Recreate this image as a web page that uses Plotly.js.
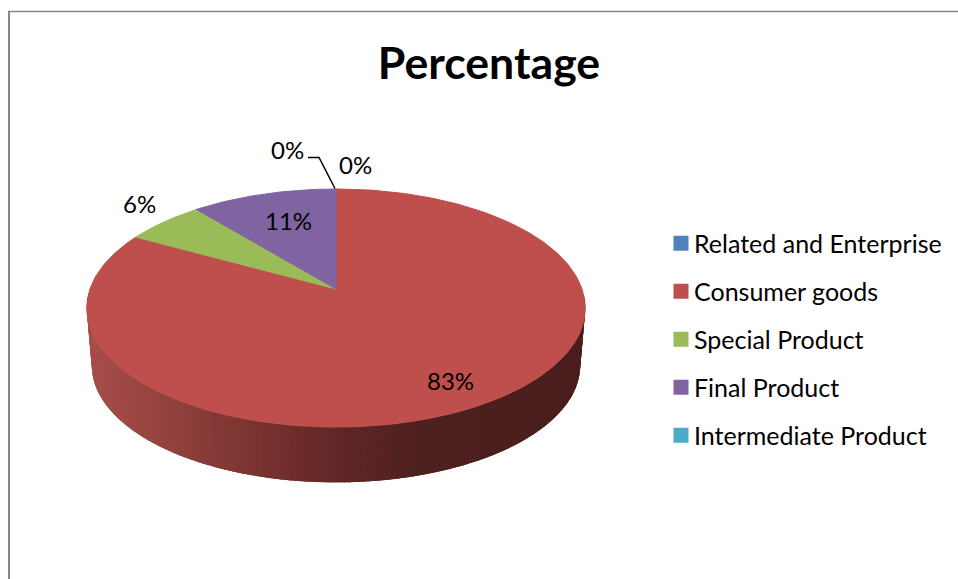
<!DOCTYPE html>
<html>
<head>
<meta charset="utf-8">
<script src="https://cdn.plot.ly/plotly-3.0.1.min.js"></script>
<style>html,body{margin:0;padding:0;background:#fff}</style>
</head>
<body>
<div id="chart" style="width:958px;height:579px"></div>
<script>
// Share of each product category, in percent, clockwise from twelve o'clock.
const categories = ["Related and Enterprise", "Consumer goods", "Special Product", "Final Product", "Intermediate Product"];
const percentages = [0, 83, 6, 11, 0];
const sliceColors = ["#4F81BD", "#BE4F4C", "#9BBB59", "#8064A2", "#4BACC6"];

// Where each percentage label sits: category index and its centre on the page.
const labelIndex = [0, 1, 2, 3, 4];
const labelX = [355, 450, 139, 288, 287];
const labelY = [164, 380, 203, 220, 149];

// Leader line from the label of an empty slice to the rim.
const leaderX = [308, 319, 335];
const leaderY = [157.5, 157.5, 188.5];

// Wall shading, left to right across the disc.
const shadeX = [85, 200, 300, 340, 420, 590];
const shadeRGB = [[168, 78, 75], [138, 60, 57], [108, 44, 42], [95, 39, 38], [78, 32, 31], [74, 30, 29]];

// Tilted-disc projection: top face, and a slightly smaller bottom face for the wall.
const tilt = 0.16;
const topFace = {cx: 336, cy: 289, rx: 246, ry: 116};
const bottomFace = {cx: 336, cy: 347, rx: 241, ry: 113.7};

function project(face, deg) {
  const t = deg * Math.PI / 180;
  const w = 1 + tilt * Math.cos(t);
  return [face.cx + face.rx * Math.sin(t) / w, face.cy - face.ry * Math.cos(t) / w];
}

function shadeAt(x) {
  for (let i = 0; i < shadeX.length - 1; i++) {
    if (x <= shadeX[i + 1]) {
      const f = Math.max(0, (x - shadeX[i]) / (shadeX[i + 1] - shadeX[i]));
      const c = shadeRGB[i].map((v, k) => Math.round(v + f * (shadeRGB[i + 1][k] - v)));
      return `rgb(${c.join(",")})`;
    }
  }
  return `rgb(${shadeRGB[shadeRGB.length - 1].join(",")})`;
}

const traces = [];
const hidden = {mode: "lines", fill: "toself", showlegend: false, hoverinfo: "skip", xaxis: "x", yaxis: "y"};

// The wall, as overlapping narrow strips so the shading varies without seams.
for (let d = 92; d < 268; d += 1) {
  const a = project(topFace, d), b = project(topFace, d + 2.5);
  const c = project(bottomFace, d + 2.5), e = project(bottomFace, d);
  const col = shadeAt(project(topFace, d + 0.5)[0]);
  traces.push(Object.assign({}, hidden, {
    x: [a[0], b[0], c[0], e[0], a[0]], y: [a[1], b[1], c[1], e[1], a[1]],
    fillcolor: col, line: {color: col, width: 0}
  }));
}

// The top face, one wedge per category.
const total = percentages.reduce((s, v) => s + v, 0);
let start = 0;
percentages.forEach((v, i) => {
  const end = start + v / total * 360;
  if (v > 0) {
    const xs = [topFace.cx], ys = [topFace.cy];
    for (let d = start; d < end; d += 1) {
      const p = project(topFace, d);
      xs.push(p[0]); ys.push(p[1]);
    }
    const last = project(topFace, end);
    xs.push(last[0], topFace.cx); ys.push(last[1], topFace.cy);
    traces.push(Object.assign({}, hidden, {
      name: categories[i], x: xs, y: ys,
      fillcolor: sliceColors[i], line: {color: sliceColors[i], width: 1}
    }));
  }
  start = end;
});

traces.push({x: leaderX, y: leaderY, mode: "lines", line: {color: "#000", width: 1.5}, showlegend: false, hoverinfo: "skip"});

// One legend entry per category, spaced by giving each its own group.
categories.forEach((name, i) => {
  traces.push({
    x: [null], y: [null], mode: "markers", name: name, legendgroup: "g" + i,
    marker: {symbol: "square", size: 15, color: sliceColors[i]}, hoverinfo: "skip"
  });
});

const annotations = labelIndex.map((k, i) => ({
  x: labelX[i], y: labelY[i], xref: "x", yref: "y", showarrow: false,
  text: percentages[k] + "%", font: {family: "Lato, sans-serif", size: 24, color: "#000"},
  xanchor: "center", yanchor: "middle"
}));

const layout = {
  width: 958, height: 579, autosize: false,
  margin: {l: 0, r: 0, t: 0, b: 0},
  paper_bgcolor: "#fff", plot_bgcolor: "#fff",
  title: {
    text: "<b>Percentage</b>", x: 489 / 958, xanchor: "center", y: 1 - 63 / 579, yanchor: "middle",
    font: {family: "Lato, sans-serif", size: 44.6, color: "#000"}
  },
  xaxis: {range: [0, 958], visible: false, fixedrange: true},
  yaxis: {range: [579, 0], visible: false, fixedrange: true},
  legend: {
    x: 661 / 958, xanchor: "left", y: 1 - 220.5 / 579, yanchor: "top",
    traceorder: "grouped", tracegroupgap: 12.5, bgcolor: "rgba(0,0,0,0)",
    font: {family: "Lato, sans-serif", size: 25, color: "#000"}
  },
  annotations: annotations,
  shapes: [
    {type: "line", xref: "paper", yref: "paper", x0: 8 / 958, x1: 1, y0: 1 - 11.5 / 579, y1: 1 - 11.5 / 579, line: {color: "#868686", width: 1.5}},
    {type: "line", xref: "paper", yref: "paper", x0: 9 / 958, x1: 9 / 958, y0: 1 - 11 / 579, y1: 0, line: {color: "#868686", width: 2}}
  ]
};

Plotly.newPlot("chart", traces, layout, {displayModeBar: false, responsive: false}).then(() => {
  // Bring the legend text closer to its swatches than the default gap allows.
  document.querySelectorAll("#chart .legendtext").forEach(t => {
    t.setAttribute("x", parseFloat(t.getAttribute("x")) - 7);
  });
});
</script>
</body>
</html>
